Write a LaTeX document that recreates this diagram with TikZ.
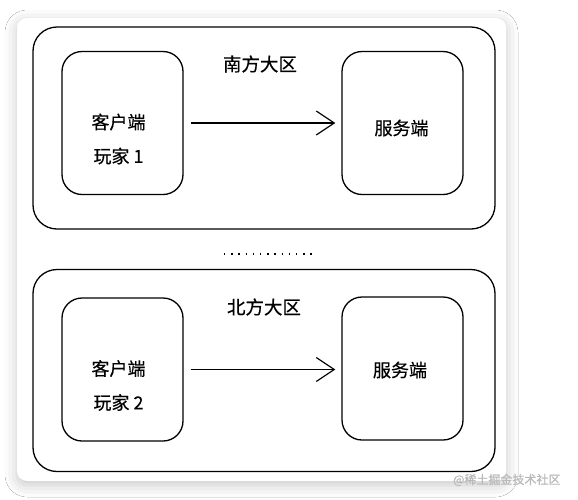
\documentclass[tikz,border=0pt]{standalone}
\usepackage{fontspec}
\setmainfont{Noto Sans CJK SC}[FakeBold=0.5]
\usetikzlibrary{arrows.meta, positioning, shadows.blur}

\begin{document}
\begin{tikzpicture}[x=1pt, y=-1pt,
  region/.style={draw, line width=1.3pt, rounded corners=24pt, minimum width=462pt, minimum height=202pt},
  box/.style={draw, line width=1.3pt, rounded corners=20pt, minimum width=121pt, minimum height=143pt},
  boxtext/.style={align=center, font=\fontsize{18}{34}\selectfont},
  title/.style={font=\fontsize{18.5}{22}\selectfont},
  flow/.style={-{Straight Barb[length=18pt, width=24pt, line width=1.2pt]}, line width=1.3pt}]
  \useasboundingbox (0,0) rectangle (578,499);
  \fill[white] (0,0) rectangle (578,499);
  % card
  \node[fill=white, rounded corners=10pt, minimum width=489pt, minimum height=463pt,
    blur shadow={shadow xshift=0pt, shadow yshift=-4pt, shadow blur radius=12pt, shadow opacity=22}] (card) at (261.5,249.5) {};

  % south region
  \node[region] (south) at (264,128) {};
  \node[title] (southlabel) at (260,64) {南方大区};
  \node[box] (client1) at (122.5,123) {};
  \node[boxtext] (client1text) at (118.5,139) {客户端\\玩家 1};
  \node[box] (server1) at (402.5,123) {};
  \node[boxtext] (server1text) at (401.5,128) {服务端};
  \draw[flow] (client1.east) ++(7pt,0) coordinate (c1out) -- ([xshift=-6pt]server1.west |- c1out);

  % dots between regions
  \draw[line width=1.3pt, dash pattern=on 1.3pt off 5.9pt] (224,254) coordinate (dotsl) -- (313,254) coordinate (dotsr);

  % north region
  \node[region] (north) at (264,370.5) {};
  \node[title] (northlabel) at (264,307) {北方大区};
  \node[box] (client2) at (122.5,369.5) {};
  \node[boxtext] (client2text) at (118.5,385.5) {客户端\\玩家 2};
  \node[box] (server2) at (402.5,368.5) {};
  \node[boxtext] (server2text) at (400,370) {服务端};
  \draw[flow] (client2.east) ++(7pt,0) coordinate (c2out) -- ([xshift=-6pt]server2.west |- c2out);

  % watermark
  \node[anchor=east, text=gray!55, font=\fontsize{12}{14}\selectfont] (mark) at (564,480) {@稀土掘金技术社区};
\end{tikzpicture}
\end{document}
